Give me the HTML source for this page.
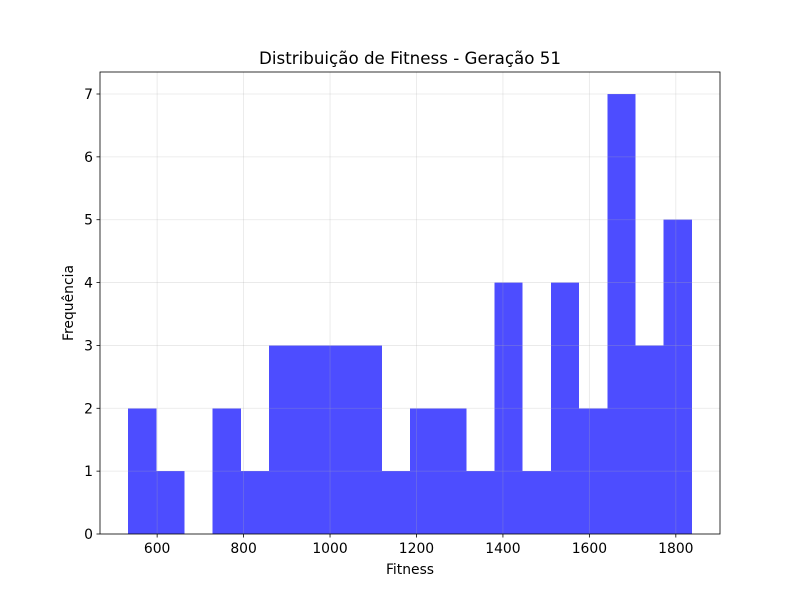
<!DOCTYPE html>
<html><head><meta charset="utf-8"><style>
html,body{margin:0;padding:0;background:#fff;}
svg{display:block;font-family:"DejaVu Sans","Liberation Sans",sans-serif;}
</style></head><body>
<svg id="chart" width="800" height="600" viewBox="0 0 800 600"></svg>
<script>
const binStart = 533;
const binEnd = 1837;
const counts = [2,1,0,2,1,3,3,3,3,1,2,2,1,4,1,4,2,7,3,5];
const xTicks = [600,800,1000,1200,1400,1600,1800];
const yTicks = [0,1,2,3,4,5,6,7];
const chartTitle = "Distribuição de Fitness - Geração 51";
const xLabel = "Fitness";
const yLabel = "Frequência";

const L=100,R=720,T=72,B=534;
const xMin=467.8,xMax=1902.2,yMin=0,yMax=7.35;
const xs=v=>L+(v-xMin)/(xMax-xMin)*(R-L);
const ys=v=>B-(v-yMin)/(yMax-yMin)*(B-T);
const svg=document.getElementById('chart');
const NS="http://www.w3.org/2000/svg";
function mk(tag,attrs,parent){const e=document.createElementNS(NS,tag);for(const k in attrs)e.setAttribute(k,attrs[k]);(parent||svg).appendChild(e);return e;}

const bw=(binEnd-binStart)/counts.length;
counts.forEach((c,i)=>{
  if(c<=0)return;
  const x0=xs(binStart+i*bw),x1=xs(binStart+(i+1)*bw);
  const r=mk('rect',{x:x0,y:ys(c),width:x1-x0,height:ys(0)-ys(c),fill:'#4d4dff','shape-rendering':'crispEdges'});
  
  
});
xTicks.forEach(t=>{
  const x=xs(t);
  const g=mk('line',{x1:x,x2:x,y1:T,y2:B,stroke:'#b0b0b0','stroke-opacity':0.3,'stroke-width':0.8});
  
  
  mk('line',{x1:x,x2:x,y1:B,y2:B+3.5,stroke:'#000','stroke-width':0.8});
  const tx=mk('text',{x:x,y:B+19,'text-anchor':'middle','font-size':13.9,fill:'#000'});
  tx.textContent=t;
  
  
});
yTicks.forEach(t=>{
  const y=ys(t);
  const g=mk('line',{x1:L,x2:R,y1:y,y2:y,stroke:'#b0b0b0','stroke-opacity':0.3,'stroke-width':0.8});
  
  
  mk('line',{x1:L-3.5,x2:L,y1:y,y2:y,stroke:'#000','stroke-width':0.8});
  const tx=mk('text',{x:L-7,y:y+5,'text-anchor':'end','font-size':13.9,fill:'#000'});
  tx.textContent=t;
  
  
});
const frame=mk('rect',{x:L,y:T,width:R-L,height:B-T,fill:'none',stroke:'#000','stroke-width':0.8});


const ti=mk('text',{x:(L+R)/2,y:T-8,'text-anchor':'middle','font-size':16.7,fill:'#000'});
ti.textContent=chartTitle;


const xl=mk('text',{x:(L+R)/2,y:574,'text-anchor':'middle','font-size':13.9,fill:'#000'});
xl.textContent=xLabel;


const yl=mk('text',{x:0,y:0,'text-anchor':'middle','font-size':13.9,fill:'#000',transform:`translate(73,${(T+B)/2}) rotate(-90)`});
yl.textContent=yLabel;


</script>
</body></html>
